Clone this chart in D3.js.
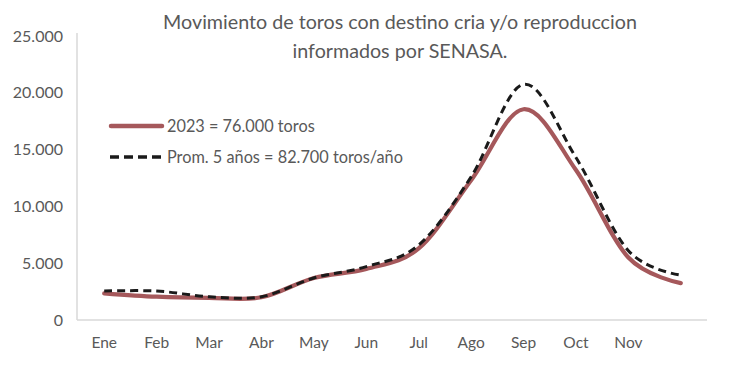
<!DOCTYPE html>
<html>
<head>
<meta charset="utf-8">
<script src="https://cdn.jsdelivr.net/npm/d3@7"></script>
<style>
  html, body { margin: 0; padding: 0; background: #fff; }
  svg { display: block; }
  text { font-family: Lato, "Open Sans", sans-serif; fill: #595959; }
</style>
</head>
<body>
<svg id="chart" width="730" height="368"></svg>
<script>
// ---- data ----
const months = ["Ene", "Feb", "Mar", "Abr", "May", "Jun", "Jul", "Ago", "Sep", "Oct", "Nov", ""];
const serie2023 = [2350, 2050, 1950, 2000, 3700, 4500, 6300, 12300, 18550, 13200, 5500, 3250];
const prom5 = [2550, 2550, 2050, 2050, 3700, 4700, 6600, 12600, 20750, 14300, 6100, 3950];
const yTicks = [0, 5000, 10000, 15000, 20000, 25000];
const titleLines = ["Movimiento de toros con destino cria y/o reproduccion", "informados por SENASA."];
const legendLabels = ["2023 = 76.000 toros", "Prom. 5 años = 82.700 toros/año"];

const svg = d3.select("#chart");
const mLeft = 78, mRight = 707, mTop = 36, mBottom = 320;

const x = d3.scaleBand().domain(d3.range(months.length)).range([mLeft, mRight]);
const y = d3.scaleLinear().domain([0, 25000]).range([mBottom, mTop]);
const fmt = v => v === 0 ? "0" : d3.format(",")(v).replace(/,/g, ".");

// axes lines
svg.append("line").attr("x1", mLeft - 1).attr("x2", mLeft - 1).attr("y1", 33).attr("y2", mBottom)
  .attr("stroke", "#d9d9d9").attr("stroke-width", 1.5);
svg.append("line").attr("x1", mLeft - 1).attr("x2", mRight).attr("y1", mBottom).attr("y2", mBottom)
  .attr("stroke", "#d9d9d9").attr("stroke-width", 1.5);

// y labels
const yAxis = d3.axisLeft(y).tickValues(yTicks).tickFormat(fmt).tickSize(0).tickPadding(15);
const gy = svg.append("g").attr("transform", `translate(${mLeft},0)`).call(yAxis);
gy.select(".domain").remove();
gy.selectAll("text").style("font-size", "16px").attr("fill", "#595959");

// x labels
const xAxis = d3.axisBottom(x).tickFormat(i => months[i]).tickSize(0).tickPadding(17);
const gx = svg.append("g").attr("transform", `translate(0,${mBottom})`).call(xAxis);
gx.select(".domain").remove();
gx.selectAll("text").style("font-size", "15.5px").attr("fill", "#595959");

// lines
const line = d3.line()
  .x((d, i) => x(i) + x.bandwidth() / 2)
  .y(d => y(d))
  .curve(d3.curveCatmullRom.alpha(0));

svg.append("path").datum(serie2023).attr("d", line)
  .attr("fill", "none").attr("stroke", "#a5585b").attr("stroke-width", 4.2)
  .attr("stroke-linecap", "round");
svg.append("path").datum(prom5).attr("d", line)
  .attr("fill", "none").attr("stroke", "#1a1a1a").attr("stroke-width", 3)
  .attr("stroke-dasharray", "8,5");

// title
svg.append("g").selectAll("text").data(titleLines).join("text")
  .attr("x", 400).attr("y", (d, i) => 29 + i * 29)
  .attr("text-anchor", "middle")
  .style("font-size", "19.7px")
  .text(d => d);

// legend
const leg = svg.append("g");
leg.append("line").attr("x1", 111).attr("x2", 162).attr("y1", 126).attr("y2", 126)
  .attr("stroke", "#a5585b").attr("stroke-width", 4.5).attr("stroke-linecap", "round");
leg.append("line").attr("x1", 110).attr("x2", 164).attr("y1", 157).attr("y2", 157)
  .attr("stroke", "#1a1a1a").attr("stroke-width", 3.5).attr("stroke-dasharray", "9,5");
leg.selectAll("text").data(legendLabels).join("text")
  .attr("x", 167).attr("y", (d, i) => 132 + i * 31)
  .style("font-size", "16.3px")
  .text(d => d);
</script>
</body>
</html>
